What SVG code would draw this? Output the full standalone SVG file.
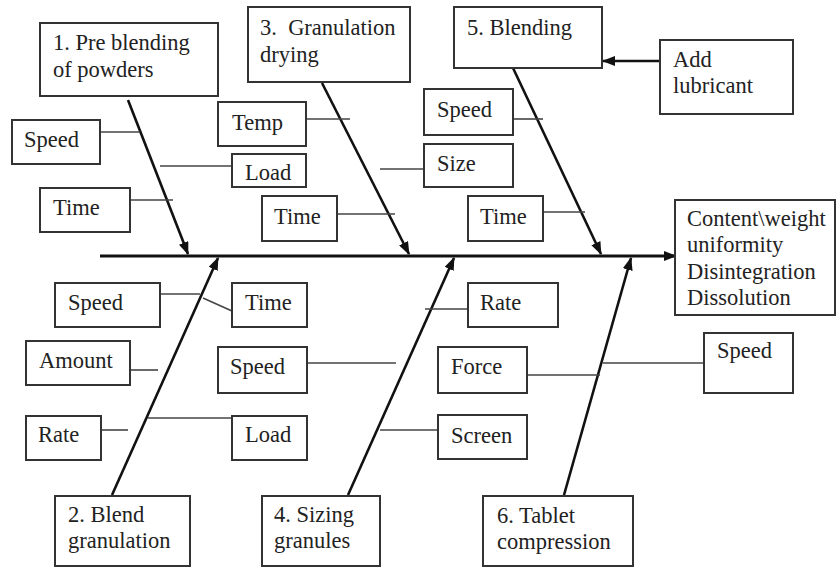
<svg xmlns="http://www.w3.org/2000/svg" width="837" height="569" viewBox="0 0 837 569">
<style>
.box{fill:#fff;stroke:#333;stroke-width:2}
.t{font-family:"Liberation Serif","Times New Roman",serif;font-size:22.5px;fill:#222;white-space:pre}
.thin{stroke:#444;stroke-width:1.6;fill:none}
.arr{stroke:#111;stroke-width:2.6;fill:none;marker-end:url(#ah)}
.spine{stroke:#111;stroke-width:3;fill:none;marker-end:url(#ah)}
</style>
<defs>
<marker id="ah" markerUnits="userSpaceOnUse" markerWidth="13" markerHeight="10" refX="12" refY="5" orient="auto">
<path d="M0,0 L13,5 L0,10 z" fill="#111"/>
</marker>
</defs>
<rect width="837" height="569" fill="#fff"/>
<g id="connectors">
<line class="spine" x1="100" y1="256" x2="676" y2="256"/>
<line class="arr" x1="128" y1="100" x2="188" y2="254"/>
<line class="arr" x1="322" y1="83" x2="409" y2="254"/>
<line class="arr" x1="513" y1="68" x2="601" y2="254"/>
<line class="arr" x1="112" y1="495" x2="218" y2="258"/>
<line class="arr" x1="348" y1="495" x2="454" y2="258"/>
<line class="arr" x1="564" y1="495" x2="631" y2="258"/>
<line class="arr" x1="660" y1="61" x2="603" y2="61"/>
<line class="thin" x1="100" y1="132" x2="140" y2="132"/>
<line class="thin" x1="160" y1="166" x2="232" y2="166"/>
<line class="thin" x1="130" y1="200" x2="173" y2="200"/>
<line class="thin" x1="306" y1="119" x2="350" y2="119"/>
<line class="thin" x1="380" y1="169" x2="424" y2="169"/>
<line class="thin" x1="337" y1="214" x2="395" y2="214"/>
<line class="thin" x1="513" y1="119" x2="543" y2="119"/>
<line class="thin" x1="543" y1="212" x2="585" y2="212"/>
<line class="thin" x1="160" y1="294" x2="200" y2="294"/>
<line class="thin" x1="203" y1="298" x2="232" y2="311"/>
<line class="thin" x1="130" y1="370" x2="158" y2="370"/>
<line class="thin" x1="307" y1="363" x2="396" y2="363"/>
<line class="thin" x1="101" y1="430" x2="128" y2="430"/>
<line class="thin" x1="148" y1="418" x2="232" y2="418"/>
<line class="thin" x1="425" y1="309" x2="468" y2="309"/>
<line class="thin" x1="527" y1="375" x2="600" y2="375"/>
<line class="thin" x1="603" y1="363" x2="704" y2="363"/>
<line class="thin" x1="380" y1="430" x2="438" y2="430"/>
</g>
<g id="n1"><rect class="box" x="40" y="23" width="178" height="73"/><text class="t" x="53" y="50">1. Pre blending</text><text class="t" x="53" y="77">of powders</text></g>
<g id="n3"><rect class="box" x="248" y="7" width="162" height="75"/><text class="t" x="260" y="35">3.  Granulation</text><text class="t" x="260" y="62">drying</text></g>
<g id="n5"><rect class="box" x="454" y="7" width="148" height="61"/><text class="t" x="467" y="35">5. Blending</text></g>
<g id="lub"><rect class="box" x="660" y="40" width="133" height="74"/><text class="t" x="673" y="67">Add</text><text class="t" x="673" y="93">lubricant</text></g>
<g id="speed1"><rect class="box" x="12" y="120" width="88" height="44"/><text class="t" x="24" y="147">Speed</text></g>
<g id="time1"><rect class="box" x="40" y="188" width="90" height="44"/><text class="t" x="53" y="215">Time</text></g>
<g id="temp"><rect class="box" x="218" y="102" width="88" height="44"/><text class="t" x="232" y="130">Temp</text></g>
<g id="load1"><rect class="box" x="232" y="154" width="74" height="33"/><text class="t" x="245" y="180">Load</text></g>
<g id="time3"><rect class="box" x="262" y="196" width="75" height="45"/><text class="t" x="274" y="224">Time</text></g>
<g id="speed5"><rect class="box" x="424" y="89" width="89" height="46"/><text class="t" x="437" y="117">Speed</text></g>
<g id="size"><rect class="box" x="424" y="144" width="89" height="43"/><text class="t" x="437" y="171">Size</text></g>
<g id="time5"><rect class="box" x="468" y="196" width="75" height="45"/><text class="t" x="480" y="224">Time</text></g>
<g id="out"><rect class="box" x="675" y="200" width="160" height="115"/><text class="t" x="687" y="226">Content\weight</text><text class="t" x="687" y="252">uniformity</text><text class="t" x="687" y="279">Disintegration</text><text class="t" x="687" y="305">Dissolution</text></g>
<g id="speed2"><rect class="box" x="55" y="283" width="105" height="44"/><text class="t" x="68" y="310">Speed</text></g>
<g id="time2"><rect class="box" x="232" y="283" width="75" height="44"/><text class="t" x="245" y="310">Time</text></g>
<g id="amount"><rect class="box" x="26" y="341" width="104" height="44"/><text class="t" x="39" y="368">Amount</text></g>
<g id="speed4"><rect class="box" x="218" y="347" width="89" height="46"/><text class="t" x="230" y="374">Speed</text></g>
<g id="rate2"><rect class="box" x="26" y="416" width="75" height="44"/><text class="t" x="38" y="442">Rate</text></g>
<g id="load2"><rect class="box" x="232" y="416" width="75" height="44"/><text class="t" x="245" y="442">Load</text></g>
<g id="rate4"><rect class="box" x="468" y="283" width="90" height="44"/><text class="t" x="480" y="310">Rate</text></g>
<g id="force"><rect class="box" x="438" y="347" width="89" height="46"/><text class="t" x="451" y="374">Force</text></g>
<g id="screen"><rect class="box" x="438" y="415" width="89" height="44"/><text class="t" x="451" y="443">Screen</text></g>
<g id="speed6"><rect class="box" x="704" y="333" width="89" height="60"/><text class="t" x="717" y="358">Speed</text></g>
<g id="n2"><rect class="box" x="55" y="496" width="135" height="70"/><text class="t" x="68" y="522">2. Blend</text><text class="t" x="68" y="548">granulation</text></g>
<g id="n4"><rect class="box" x="262" y="496" width="118" height="70"/><text class="t" x="274" y="522">4. Sizing</text><text class="t" x="274" y="548">granules</text></g>
<g id="n6"><rect class="box" x="483" y="496" width="150" height="70"/><text class="t" x="497" y="523">6. Tablet</text><text class="t" x="497" y="549">compression</text></g>
</svg>
